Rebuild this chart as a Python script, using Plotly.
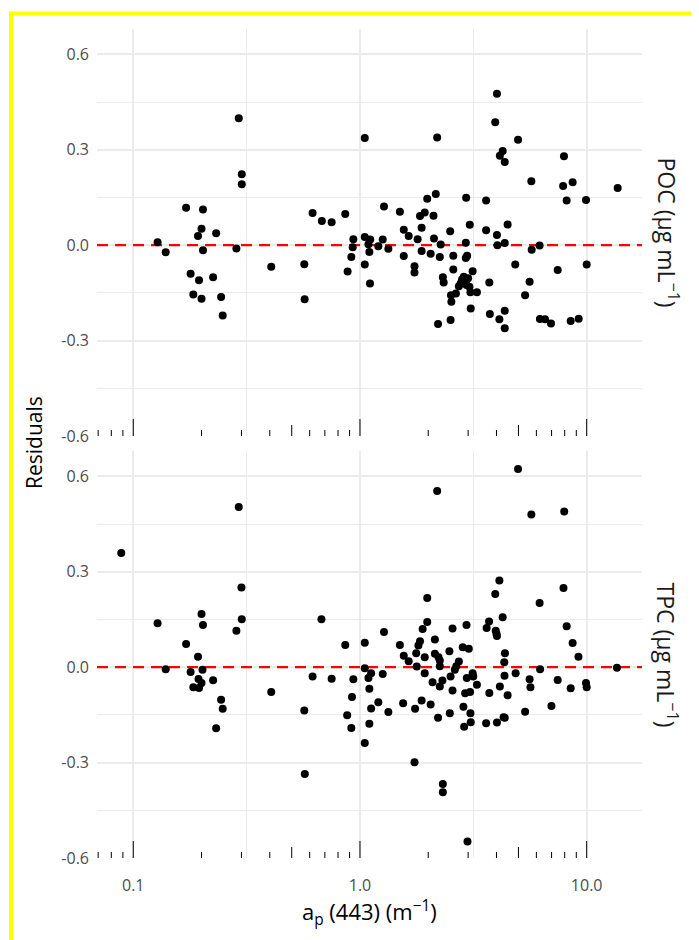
import plotly.graph_objects as go
import numpy as np

# ---------------- data ----------------
poc_ap = [0.128, 0.139, 0.171, 0.179, 0.184, 0.193, 0.195, 0.2, 0.2, 0.203, 0.203, 0.225, 0.232, 0.244,
          0.248, 0.285, 0.292, 0.301, 0.301, 0.406, 0.568, 0.570, 0.618, 0.679, 0.75, 0.861, 0.882, 0.916,
          0.929, 0.935,
          1.05, 1.05, 1.05, 1.10, 1.107, 1.11, 1.09, 1.205, 1.26, 1.276, 1.334, 1.5, 1.56, 1.56, 1.64,
          1.74, 1.74, 1.796, 1.87, 1.87, 1.84, 1.93, 1.98, 2.05, 2.11, 2.12, 2.16, 2.19, 2.21, 2.25,
          2.27, 2.32, 2.34, 2.5, 2.51, 2.53, 2.52, 2.58, 2.58, 2.65, 2.73, 2.78, 2.82, 2.87, 2.90, 2.95,
          3.0, 3.04, 3.07, 3.14, 3.28, 2.93, 2.93, 2.97, 2.94, 3.05, 3.08, 3.6, 3.6, 3.72, 3.74, 3.95,
          4.02, 4.02, 4.04, 4.35, 4.12, 4.14, 4.26, 4.35, 4.35, 4.35, 4.48, 4.84, 4.98, 5.35, 5.6, 5.7,
          5.72, 6.2, 6.22, 6.55, 6.96, 7.45, 7.94, 7.87, 8.16, 8.5, 9.22, 8.67, 9.93, 10.0, 13.7]
poc_res = [0.009, -0.022, 0.118, -0.090, -0.155, 0.029, -0.110, -0.168, 0.052, 0.112, -0.016, -0.101,
           0.038, -0.163, -0.221, -0.010, 0.399, 0.223, 0.192, -0.068, -0.060, -0.170, 0.101, 0.076,
           0.072, 0.098, -0.083, -0.037, -0.006, 0.019,
           0.337, -0.061, 0.026, -0.021, -0.120, 0.018, 0.003, -0.003, 0.018, 0.122, -0.011, 0.105,
           -0.034, 0.049, 0.029, -0.066, -0.086, 0.019, -0.018, 0.055, 0.092, 0.103, 0.146, -0.027,
           0.093, 0.021, 0.161, 0.339, -0.248, -0.037, 0.002, -0.101, -0.117, 0.044, -0.235, -0.178,
           -0.157, -0.076, -0.033, -0.152, -0.129, -0.120, -0.108, -0.099, -0.120, -0.125, -0.104,
           -0.131, -0.148, -0.082, -0.148, 0.008, -0.040, -0.033, 0.149, 0.064, -0.199, 0.141, 0.047,
           -0.117, -0.216, 0.387, 0.476, 0.032, 0.000, 0.007, -0.233, 0.281, 0.296, 0.262, -0.206,
           -0.261, 0.065, -0.061, 0.332, -0.157, -0.115, 0.201, -0.014, -0.001, -0.232, -0.233, -0.246,
           -0.078, 0.280, 0.186, 0.141, -0.238, -0.231, 0.198, 0.142, -0.061, 0.180]

tpc_ap = [0.0885, 0.128, 0.139, 0.171, 0.179, 0.184, 0.193, 0.194, 0.195, 0.2, 0.2, 0.202, 0.203, 0.225,
          0.232, 0.244, 0.248, 0.285, 0.292, 0.300, 0.301, 0.406, 0.568, 0.571, 0.618, 0.676, 0.75,
          0.861, 0.878, 0.916, 0.922, 0.935,
          1.05, 1.05, 1.05, 1.09, 1.10, 1.10, 1.12, 1.12, 1.205, 1.26, 1.276, 1.334, 1.5, 1.55, 1.56,
          1.64, 1.74, 1.75, 1.77, 1.81, 1.84, 1.78, 1.87, 1.89, 1.93, 1.93, 1.98, 1.98, 2.05, 2.09,
          2.14, 2.14, 2.19, 2.21, 2.22, 2.25, 2.25, 2.25, 2.31, 2.32, 2.32, 2.48, 2.49, 2.51, 2.56,
          2.56, 2.62, 2.66, 2.73, 2.84, 2.86, 2.88, 2.91, 2.95, 2.96, 3.02, 3.06, 3.07, 3.08, 2.98,
          3.14, 3.16, 3.28, 3.6, 3.62, 3.72, 3.71, 3.95, 3.97, 4.0, 4.02, 4.02, 4.12, 4.14, 4.26, 4.3,
          4.35, 4.33, 4.36, 4.34, 4.48, 4.86, 4.98, 5.35, 5.6, 5.65, 5.7, 6.2, 6.23, 6.99, 7.45, 7.9,
          7.96, 8.16, 8.5, 8.67, 9.2, 9.93, 10.0, 13.6]
tpc_res = [0.359, 0.138, -0.006, 0.073, -0.015, -0.063, 0.033, -0.037, -0.065, -0.050, 0.167, -0.008,
           0.133, -0.041, -0.192, -0.102, -0.131, 0.115, 0.504, 0.251, 0.151, -0.078, -0.136, -0.336,
           -0.029, 0.151, -0.036, 0.070, -0.151, -0.191, -0.094, -0.038,
           0.077, -0.003, -0.238, -0.034, -0.068, -0.178, -0.019, -0.130, -0.110, -0.021, 0.111,
           -0.141, 0.070, -0.113, 0.036, 0.019, -0.299, -0.131, 0.044, 0.068, 0.082, 0.002, -0.105,
           0.120, -0.019, 0.031, 0.142, 0.218, -0.117, -0.047, 0.087, 0.042, 0.554, -0.159, 0.031,
           0.021, -0.061, 0.003, -0.042, -0.367, -0.393, 0.050, -0.145, -0.029, -0.073, 0.122, -0.008,
           0.003, 0.018, 0.063, -0.124, -0.187, -0.082, 0.133, -0.034, 0.058, -0.078, -0.145, -0.173,
           -0.548, -0.019, -0.029, -0.055, -0.176, 0.123, -0.081, 0.144, 0.230, 0.115, 0.105, 0.098,
           -0.174, 0.273, -0.061, 0.157, -0.157, -0.159, 0.016, 0.044, -0.027, -0.088, -0.019, 0.623,
           -0.140, -0.038, -0.063, 0.480, 0.202, -0.006, -0.122, -0.040, 0.249, 0.490, 0.129, -0.066,
           0.076, 0.033, -0.050, -0.063, -0.002]

x_tickvals = [0.1, 1, 10]
x_ticktext = ["0.1", "1.0", "10.0"]
x_minor = [0.0316, 0.316, 3.16]
y_tickvals = [-0.6, -0.3, 0.0, 0.3, 0.6]
y_ticktext = ["-0.6", "-0.3", "0.0", "0.3", "0.6"]
y_minor = [-0.45, -0.15, 0.15, 0.45]
facet_labels = ["POC (μg mL<sup>−1</sup>)", "TPC (μg mL<sup>−1</sup>)"]
x_title = "a<sub>p</sub> (443) (m<sup>−1</sup>)"
y_title = "Residuals"
ref_level = 0.0

# ---------------- styling ----------------
# the page body adds an 8px offset, so the figure is laid out 8px up/left of screen coordinates
OFF = 8
FONT = "Open Sans, Noto Sans, sans-serif"
W, H = 691, 932
L, R, T, B = 89, 57, 21, 82
PH = H - T - B
PW = W - L - R
X_RANGE = [-1.16, 1.244]
Y_RANGE = [-0.6, 0.68]
GRID = "#EBEBEB"
panel_px = 407
top_dom = [1 - panel_px / PH, 1.0]
bot_dom = [0.0, panel_px / PH]
lo, hi = 10 ** X_RANGE[0], 10 ** X_RANGE[1]

fig = go.Figure()
for xa, ya, xs, ys in (("x", "y", poc_ap, poc_res), ("x2", "y2", tpc_ap, tpc_res)):
    # dashed reference line at zero (drawn first, under the points)
    fig.add_trace(go.Scatter(x=[lo, hi], y=[ref_level, ref_level], mode="lines", xaxis=xa, yaxis=ya,
                             line=dict(color="red", width=2.2, dash="11px,7px"),
                             showlegend=False, hoverinfo="skip"))
    fig.add_trace(go.Scatter(x=xs, y=ys, mode="markers", xaxis=xa, yaxis=ya,
                             marker=dict(color="black", size=8), showlegend=False, hoverinfo="skip"))

def xaxis(anchor, labels):
    return dict(type="log", range=X_RANGE, domain=[0, 1], anchor=anchor,
                tickmode="array", tickvals=x_tickvals, ticktext=x_ticktext,
                showticklabels=labels, ticks="", showline=False, zeroline=False,
                showgrid=True, gridcolor=GRID, gridwidth=1.5,
                minor=dict(tickmode="array", tickvals=x_minor, showgrid=True,
                           gridcolor=GRID, gridwidth=0.8, ticks=""),
                tickfont=dict(size=16, color="#4D4D4D", family=FONT),
                ticklabelstandoff=16, fixedrange=True)

def yaxis(anchor, dom):
    return dict(range=Y_RANGE, domain=dom, anchor=anchor,
                tickmode="array", tickvals=y_tickvals, ticktext=y_ticktext,
                ticks="", showline=False, zeroline=False,
                showgrid=True, gridcolor=GRID, gridwidth=1.5,
                minor=dict(tickmode="array", tickvals=y_minor, showgrid=True,
                           gridcolor=GRID, gridwidth=0.8, ticks=""),
                tickfont=dict(size=16, color="#4D4D4D", family=FONT),
                ticklabelstandoff=7, fixedrange=True)

fig.update_layout(
    width=W, height=H, margin=dict(l=L, r=R, t=T, b=B, autoexpand=False),
    paper_bgcolor="white", plot_bgcolor="white",
    font=dict(family=FONT, color="black"),
    xaxis=xaxis("y", False), yaxis=yaxis("x", top_dom),
    xaxis2=xaxis("y2", True), yaxis2=yaxis("x2", bot_dom),
)

shapes = []
# log ticks along the bottom of each panel
for xr, yr in (("x", "y"), ("x2", "y2")):
    for dec in (0.01, 0.1, 1, 10):
        for m in range(1, 10):
            v = dec * m
            if v < lo or v > hi:
                continue
            ln = 17 if m == 1 else (11 if m == 5 else 6)
            shapes.append(dict(type="line", xref=xr, yref=yr + " domain", x0=v, x1=v,
                               y0=0, y1=ln / panel_px, line=dict(color="black", width=1)))

def px_x(X):
    # screen pixel -> paper fraction
    return (X - OFF - L) / PW

def px_y(Y):
    return (H - B - (Y - OFF)) / PH

# yellow frame (left and top edges; the rest runs off the page)
shapes.append(dict(type="line", xref="paper", yref="paper", x0=px_x(11), x1=px_x(11),
                   y0=px_y(1000), y1=px_y(12), line=dict(color="#FFFF00", width=4)))
shapes.append(dict(type="line", xref="paper", yref="paper", x0=px_x(9), x1=px_x(760),
                   y0=px_y(13.5), y1=px_y(13.5), line=dict(color="#FFFF00", width=4)))
fig.update_layout(shapes=shapes)

annotations = [
    dict(text=facet_labels[0], xref="paper", yref="paper", x=px_x(667), y=px_y(232.5),
         textangle=90, showarrow=False, font=dict(size=23, color="#1A1A1A", family=FONT),
         xanchor="center", yanchor="middle"),
    dict(text=facet_labels[1], xref="paper", yref="paper", x=px_x(667), y=px_y(654.5),
         textangle=90, showarrow=False, font=dict(size=23, color="#1A1A1A", family=FONT),
         xanchor="center", yanchor="middle"),
    dict(text=y_title, xref="paper", yref="paper", x=px_x(34), y=px_y(443),
         textangle=-90, showarrow=False, font=dict(size=21, color="black", family=FONT),
         xanchor="center", yanchor="middle"),
    dict(text=x_title, xref="paper", yref="paper", x=0.5, y=px_y(912),
         showarrow=False, font=dict(size=22, color="black", family=FONT),
         xanchor="center", yanchor="middle"),
]
fig.update_layout(annotations=annotations)

fig.write_html("out.html")
